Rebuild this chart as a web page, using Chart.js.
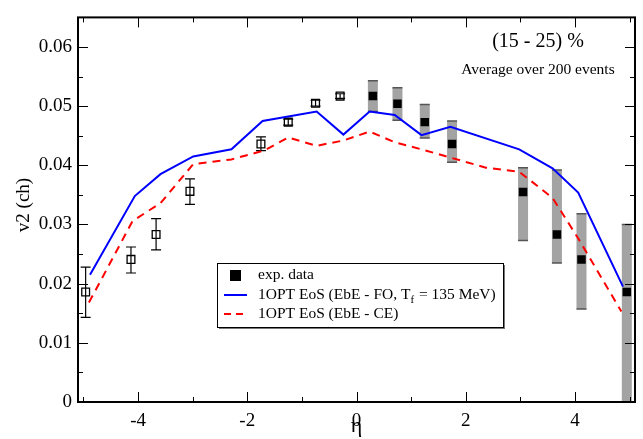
<!DOCTYPE html>
<html>
<head>
<meta charset="utf-8">
<script src="https://cdn.jsdelivr.net/npm/chart.js@4"></script>
<style>
  html, body { margin: 0; padding: 0; background: #fff; }
  #wrap { width: 643px; height: 439px; }
</style>
</head>
<body>
<div id="wrap"><canvas id="v2Chart" width="643" height="439"></canvas></div>
<script>
// experimental data, eta < 0 (open squares, stat. errors)
const etaNeg = [-4.96, -4.13, -3.67, -3.05, -1.75, -1.25, -0.75, -0.3];
const v2Neg = [0.0186, 0.0241, 0.0283, 0.0356, 0.0436, 0.0473, 0.0505, 0.0517];
const errNegHi = [0.0228, 0.0262, 0.0310, 0.0377, 0.0448, 0.0478, 0.0510, 0.0521];
const errNegLo = [0.0143, 0.0218, 0.0257, 0.0334, 0.0425, 0.0468, 0.0500, 0.0513];

// experimental data, eta > 0 (filled squares, syst. bands)
const etaPos = [0.3, 0.75, 1.25, 1.75, 3.05, 3.67, 4.12, 4.95];
const v2Pos = [0.0517, 0.0504, 0.0473, 0.0436, 0.0355, 0.0283, 0.0241, 0.0186];
const sysHi = [0.0543, 0.0531, 0.0503, 0.0475, 0.0396, 0.0392, 0.0318, 0.0300];
const sysLo = [0.0491, 0.0476, 0.0446, 0.0405, 0.0273, 0.0235, 0.0157, 0.0];

// 1OPT EoS (EbE - FO)
const etaFO = [-4.88, -4.06, -3.59, -2.99, -2.29, -1.72, -0.73, -0.24, 0.24, 0.70, 1.19, 1.72, 2.98, 3.59, 4.06, 4.88];
const v2FO = [0.0215, 0.0348, 0.0385, 0.0415, 0.0427, 0.0475, 0.0491, 0.0452, 0.0491, 0.0485, 0.0451, 0.0465, 0.0427, 0.0395, 0.0354, 0.0195];

// 1OPT EoS (EbE - CE)
const etaCE = [-4.9, -4.1, -3.59, -2.99, -2.29, -1.69, -1.25, -0.73, -0.24, 0.24, 0.70, 1.19, 2.37, 2.98, 3.59, 4.07, 4.85];
const v2CE = [0.0168, 0.0306, 0.0336, 0.0402, 0.0410, 0.0425, 0.0447, 0.0433, 0.0442, 0.0457, 0.0439, 0.0427, 0.0396, 0.0389, 0.0345, 0.0275, 0.0153];

const xTicks = [-5, -4, -3, -2, -1, 0, 1, 2, 3, 4, 5];
const yTicks = [0, 0.005, 0.01, 0.015, 0.02, 0.025, 0.03, 0.035, 0.04, 0.045, 0.05, 0.055, 0.06];

const toPts = (xs, ys) => xs.map((x, i) => ({ x: x, y: ys[i] }));
const serif = "'Liberation Serif', 'DejaVu Serif', serif";

const isMajorY = v => Math.round(v * 1000) % 10 === 0;

// error bars + systematic bands, drawn under the markers
const errorBars = {
  id: 'errorBars',
  beforeDatasetsDraw(chart) {
    const { ctx, chartArea, scales: { x, y } } = chart;
    ctx.save();
    ctx.beginPath();
    ctx.rect(chartArea.left, chartArea.top, chartArea.right - chartArea.left, chartArea.bottom - chartArea.top);
    ctx.clip();
    // gray systematic bands
    etaPos.forEach((e, i) => {
      const px = x.getPixelForValue(e);
      const top = y.getPixelForValue(sysHi[i]);
      const bot = y.getPixelForValue(sysLo[i]);
      ctx.fillStyle = '#a3a3a3';
      ctx.fillRect(px - 5, top, 10, bot - top);
      ctx.strokeStyle = '#555';
      ctx.lineWidth = 1.5;
      ctx.beginPath();
      ctx.moveTo(px - 5, top); ctx.lineTo(px + 5, top);
      ctx.moveTo(px - 5, bot); ctx.lineTo(px + 5, bot);
      ctx.stroke();
    });
    // stat errors
    ctx.strokeStyle = '#000';
    ctx.lineWidth = 1.2;
    etaNeg.forEach((e, i) => {
      const px = x.getPixelForValue(e);
      const top = y.getPixelForValue(errNegHi[i]);
      const bot = y.getPixelForValue(errNegLo[i]);
      ctx.beginPath();
      ctx.moveTo(px, top); ctx.lineTo(px, bot);
      ctx.moveTo(px - 5, top); ctx.lineTo(px + 5, top);
      ctx.moveTo(px - 5, bot); ctx.lineTo(px + 5, bot);
      ctx.stroke();
    });
    ctx.restore();
  }
};

// frame, inward ticks on all sides, axis titles, annotations and legend
const frameAndText = {
  id: 'frameAndText',
  afterDraw(chart) {
    const { ctx, chartArea: a, scales: { x, y } } = chart;
    ctx.save();
    ctx.strokeStyle = '#000';
    ctx.lineWidth = 1;
    ctx.beginPath();
    x.ticks.forEach(t => {
      const px = Math.round(x.getPixelForValue(t.value)) + 0.5;
      const len = t.value % 2 === 0 ? 10 : 5;
      ctx.moveTo(px, a.bottom); ctx.lineTo(px, a.bottom - len);
      ctx.moveTo(px, a.top); ctx.lineTo(px, a.top + len);
    });
    y.ticks.forEach(t => {
      const py = Math.round(y.getPixelForValue(t.value)) + 0.5;
      const len = isMajorY(t.value) ? 10 : 5;
      ctx.moveTo(a.left, py); ctx.lineTo(a.left + len, py);
      ctx.moveTo(a.right, py); ctx.lineTo(a.right - len, py);
    });
    ctx.stroke();
    ctx.lineWidth = 2;
    ctx.strokeRect(a.left, a.top, a.right - a.left, a.bottom - a.top);

    // axis titles
    ctx.fillStyle = '#000';
    ctx.textAlign = 'center';
    ctx.textBaseline = 'alphabetic';
    ctx.font = '22px ' + serif;
    ctx.fillText('η', (a.left + a.right) / 2, 432);
    ctx.textBaseline = 'middle';
    ctx.save();
    ctx.translate(24, 205);
    ctx.rotate(-Math.PI / 2);
    ctx.font = '19px ' + serif;
    ctx.fillText('v2 (ch)', 0, 0);
    ctx.restore();

    // annotations
    ctx.font = '20px ' + serif;
    ctx.fillText('(15 - 25) %', 538, 42);
    ctx.font = '15.5px ' + serif;
    ctx.fillText('Average over 200 events', 538, 70);

    // legend
    const lx = 217, ly = 263, lw = 286, lh = 64;
    ctx.fillStyle = '#777';
    ctx.fillRect(lx + 2, ly + 2, lw, lh);
    ctx.fillStyle = '#fff';
    ctx.fillRect(lx, ly, lw, lh);
    ctx.lineWidth = 1;
    ctx.strokeStyle = '#000';
    ctx.strokeRect(lx + 0.5, ly + 0.5, lw, lh);

    ctx.fillStyle = '#000';
    ctx.fillRect(230, 270, 11, 11);
    ctx.lineWidth = 2;
    ctx.strokeStyle = '#0000ff';
    ctx.beginPath(); ctx.moveTo(224, 295); ctx.lineTo(247, 295); ctx.stroke();
    ctx.strokeStyle = '#ff0000';
    ctx.setLineDash([7, 5]);
    ctx.beginPath(); ctx.moveTo(224, 314); ctx.lineTo(247, 314); ctx.stroke();
    ctx.setLineDash([]);

    ctx.fillStyle = '#000';
    ctx.textAlign = 'left';
    ctx.font = '15.5px ' + serif;
    ctx.fillText('exp. data', 258, 275);
    const s = '1OPT EoS (EbE - FO, T';
    ctx.fillText(s, 258, 295);
    const w = ctx.measureText(s).width;
    ctx.font = '11px ' + serif;
    ctx.fillText('f', 258 + w, 300);
    const w2 = ctx.measureText('f').width;
    ctx.font = '15.5px ' + serif;
    ctx.fillText(' = 135 MeV)', 258 + w + w2 + 1, 295);
    ctx.fillText('1OPT EoS (EbE - CE)', 258, 314);
    ctx.restore();
  }
};

new Chart(document.getElementById('v2Chart').getContext('2d'), {
  type: 'scatter',
  data: {
    datasets: [
      {
        label: '1OPT EoS (EbE - FO, Tf = 135 MeV)',
        type: 'line',
        data: toPts(etaFO, v2FO),
        borderColor: '#0000ff',
        borderWidth: 2,
        pointRadius: 0,
        tension: 0,
        fill: false
      },
      {
        label: '1OPT EoS (EbE - CE)',
        type: 'line',
        data: toPts(etaCE, v2CE),
        borderColor: '#ff0000',
        borderWidth: 2,
        borderDash: [8, 6],
        pointRadius: 0,
        tension: 0,
        fill: false
      },
      {
        label: 'exp. data (eta<0)',
        data: toPts(etaNeg, v2Neg),
        pointStyle: 'rect',
        pointRadius: 5.5,
        backgroundColor: 'rgba(0,0,0,0)',
        borderColor: '#000',
        borderWidth: 1.3
      },
      {
        label: 'exp. data',
        data: toPts(etaPos, v2Pos),
        pointStyle: 'rect',
        pointRadius: 6,
        backgroundColor: '#000',
        borderColor: '#000',
        borderWidth: 0
      }
    ]
  },
  options: {
    responsive: false,
    animation: false,
    layout: { padding: { top: 11, right: 8, left: 0, bottom: 0 } },
    plugins: {
      legend: { display: false },
      tooltip: { enabled: false }
    },
    scales: {
      x: {
        type: 'linear',
        min: -5.1,
        max: 5.1,
        afterBuildTicks: s => { s.ticks = xTicks.map(v => ({ value: v })); },
        afterFit: s => { s.height = 37; },
        grid: { display: false, drawTicks: false },
        border: { display: false },
        ticks: {
          autoSkip: false,
          maxRotation: 0,
          padding: 8,
          color: '#000',
          font: { family: serif, size: 19 },
          callback: v => (v % 2 === 0 ? String(v) : '')
        }
      },
      y: {
        type: 'linear',
        min: 0,
        max: 0.065,
        afterBuildTicks: s => { s.ticks = yTicks.map(v => ({ value: v })); },
        afterFit: s => { s.width = 78; },
        grid: { display: false, drawTicks: false },
        border: { display: false },
        ticks: {
          autoSkip: false,
          padding: 6,
          color: '#000',
          font: { family: serif, size: 19 },
          callback: v => (isMajorY(v) ? (v === 0 ? '0' : v.toFixed(2)) : '')
        }
      }
    }
  },
  plugins: [errorBars, frameAndText]
});
</script>
</body>
</html>
